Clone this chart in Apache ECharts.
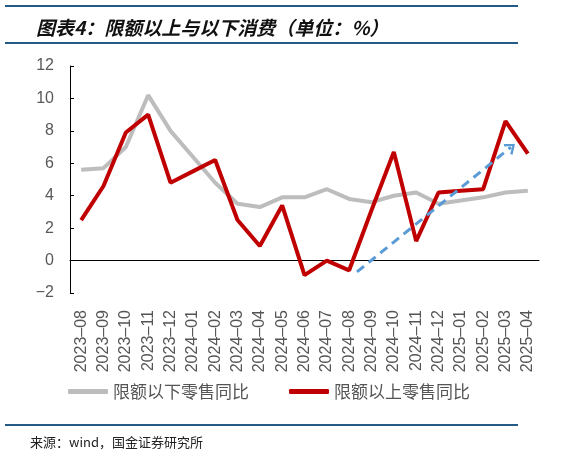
<!DOCTYPE html>
<html lang="zh">
<head>
    <meta charset="UTF-8">
    <script src="https://cdn.jsdelivr.net/npm/echarts@6/dist/echarts.min.js"></script>
    <title>限额以上与以下消费</title>
    <style>
        html, body { margin: 0; padding: 0; background: #fff; }
        #main { width: 565px; height: 456px; }
    </style>
</head>
<body>
<div id="main"></div>
<script>
    // 月份
    var months = ['2023-08', '2023-09', '2023-10', '2023-11', '2023-12', '2024-01', '2024-02',
        '2024-03', '2024-04', '2024-05', '2024-06', '2024-07', '2024-08', '2024-09', '2024-10',
        '2024-11', '2024-12', '2025-01', '2025-02', '2025-03', '2025-04'];
    // 限额以下零售同比
    var belowLimit = [5.6, 5.7, 7.0, 10.2, 8.0, 6.4, 4.8, 3.5, 3.3, 3.9, 3.9, 4.4, 3.8, 3.6, 4.0, 4.2, 3.5, 3.7, 3.9, 4.2, 4.3];
    // 限额以上零售同比
    var aboveLimit = [2.5, 4.6, 7.9, 9.0, 4.8, 5.5, 6.2, 2.5, 0.9, 3.4, -0.9, 0.0, -0.6, 3.1, 6.7, 1.2, 4.2, 4.3, 4.4, 8.6, 6.6];
    // 趋势箭头（起点、终点，按月份序号与数值）
    var trendArrow = [[12.35, -0.7], [19.25, 7.0]];
    var yTicks = { min: -2, max: 12, step: 2 };

    var myChart = echarts.init(document.getElementById('main'));

    var option = {
        animation: false,
        title: {
            text: '图表4：限额以上与以下消费（单位：%）',
            left: 31,
            top: 13,
            textStyle: {
                fontFamily: 'Noto Sans CJK SC',
                fontSize: 19,
                fontWeight: 'bold',
                fontStyle: 'italic',
                color: '#111'
            }
        },
        graphic: [
            { type: 'rect', shape: { x: 5, y: 5, width: 513, height: 2 }, style: { fill: '#245a86' } },
            { type: 'rect', shape: { x: 5, y: 42, width: 513, height: 2 }, style: { fill: '#245a86' } },
            { type: 'rect', shape: { x: 5, y: 424, width: 513, height: 2 }, style: { fill: '#245a86' } },
            {
                type: 'text', left: 30, top: 436,
                style: { text: '来源：wind，国金证券研究所', font: '13px "Noto Sans CJK SC"', fill: '#222' }
            }
        ],
        legend: {
            left: 63,
            top: 378,
            itemWidth: 40,
            itemHeight: 5,
            itemGap: 40,
            icon: 'roundRect',
            textStyle: { fontFamily: 'Noto Sans CJK SC', fontSize: 17, color: '#555' },
            data: ['限额以下零售同比', '限额以上零售同比']
        },
        grid: { left: 70, right: 26, top: 66, bottom: 163, containLabel: false, outerBoundsMode: 'none' },
        xAxis: [{
            type: 'category',
            data: months,
            boundaryGap: true,
            axisLine: { onZero: true, lineStyle: { color: '#000', width: 1 } },
            axisTick: { inside: true, length: 5, alignWithLabel: false, lineStyle: { color: '#000' } },
            axisLabel: {
                interval: 0,
                rotate: 90,
                margin: 17,
                color: '#555',
                fontFamily: 'Liberation Sans',
                fontSize: 16,
                formatter: function (v) { return v.replace('-', '\u2013'); }
            }
        }, {
            // 隐形数值轴，用于定位趋势箭头
            type: 'value',
            min: -0.5,
            max: months.length - 0.5,
            show: false
        }],
        yAxis: {
            type: 'value',
            min: yTicks.min,
            max: yTicks.max,
            interval: yTicks.step,
            splitLine: { show: false },
            axisLine: { show: true, onZero: false, lineStyle: { color: '#000' } },
            axisTick: { show: true, inside: true, length: 4, lineStyle: { color: '#000' } },
            axisLabel: {
                color: '#595959',
                fontFamily: 'Liberation Sans',
                fontSize: 16,
                margin: 16,
                formatter: function (v) { return v < 0 ? '\u2212' + Math.abs(v) : String(v); }
            }
        },
        series: [
            {
                name: '限额以下零售同比',
                type: 'line',
                data: belowLimit,
                symbol: 'none',
                color: '#bdbdbd',
                lineStyle: { width: 4, color: '#bdbdbd' },
                z: 2
            },
            {
                name: '限额以上零售同比',
                type: 'line',
                data: aboveLimit,
                symbol: 'none',
                color: '#c00000',
                lineStyle: { width: 4, color: '#c00000' },
                z: 3
            },
            {
                name: 'trend',
                type: 'line',
                xAxisIndex: 1,
                data: [],
                silent: true,
                z: 4,
                markLine: {
                    silent: true,
                    animation: false,
                    label: { show: false },
                    symbolSize: [14, 10],
                    lineStyle: { color: '#5b9bd5', width: 3, type: [9, 6], cap: 'butt' },
                    data: [[
                        { coord: trendArrow[0], symbol: 'none' },
                        { coord: trendArrow[1], symbol: 'path://M5,0 L10,8 L8.4,9.2 L5,3.2 L1.6,9.2 L0,8 Z' }
                    ]]
                }
            }
        ]
    };

    myChart.setOption(option);
</script>
</body>
</html>
